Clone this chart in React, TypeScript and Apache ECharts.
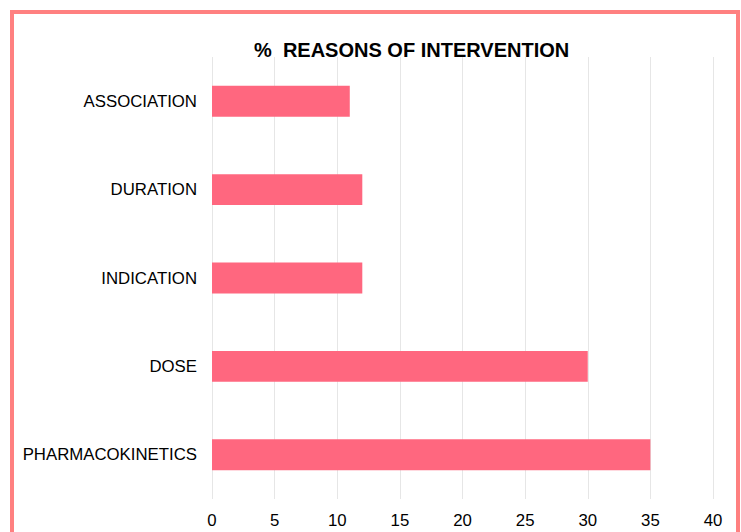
import React, { useEffect, useRef } from "react";
import * as echarts from "echarts";

const categories = ["PHARMACOKINETICS", "DOSE", "INDICATION", "DURATION", "ASSOCIATION"];
const values = [35, 30, 12, 12, 11];
const titleText = "%  REASONS OF INTERVENTION";

export default function App() {
  const ref = useRef<HTMLDivElement>(null);
  useEffect(() => {
    document.body.style.margin = "0";
    const chart = echarts.init(ref.current!, null, { renderer: "svg" });
    chart.setOption({
      animation: false,
      backgroundColor: "#ffffff",
      title: {
        text: titleText,
        left: 249,
        top: 35,
        textStyle: { fontFamily: "Liberation Sans", fontSize: 20, fontWeight: "bold", color: "#000" },
      },
      graphic: [
        {
          type: "rect",
          shape: { x: 12, y: 12, width: 726, height: 560 },
          style: { fill: "none", stroke: "#FF8080", lineWidth: 4 },
          silent: true,
        },
      ],
      grid: { left: 212, right: 28, top: 57, bottom: 33, containLabel: false },
      xAxis: {
        type: "value",
        min: 0,
        max: 40,
        interval: 5,
        axisLine: { show: false },
        axisTick: { show: false },
        splitLine: { show: true, lineStyle: { color: "#e6e6e6", width: 1 } },
        axisLabel: { fontFamily: "Liberation Sans", fontSize: 16.8, color: "#000", margin: 13 },
      },
      yAxis: {
        type: "category",
        data: categories,
        axisLine: { show: false },
        axisTick: { show: false },
        splitLine: { show: false },
        axisLabel: { fontFamily: "Liberation Sans", fontSize: 16.8, color: "#000", margin: 15 },
      },
      series: [
        {
          type: "bar",
          data: values,
          barWidth: "35%",
          itemStyle: { color: "#FF677F" },
        },
      ],
    });
    return () => chart.dispose();
  }, []);
  return <div ref={ref} style={{ position: "fixed", left: 0, top: 0, width: 741, height: 532 }} />;
}
